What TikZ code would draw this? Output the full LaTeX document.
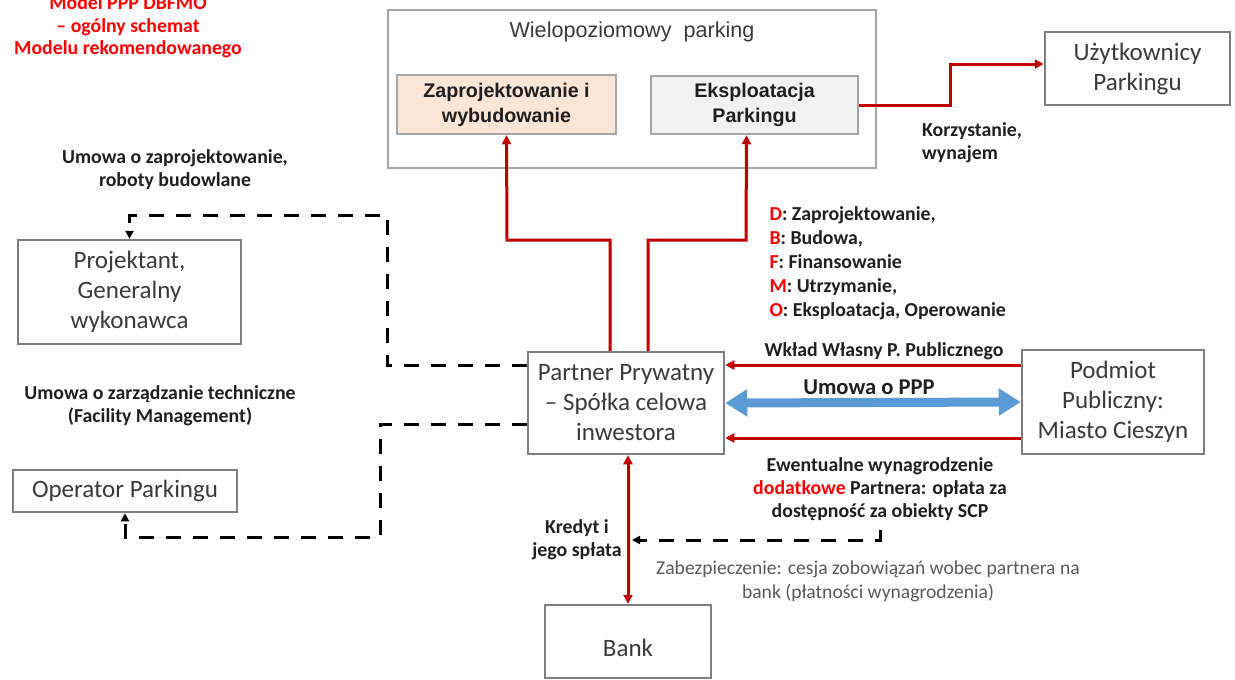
\documentclass[tikz,border=0pt]{standalone}
\usepackage{fontspec}
\setmainfont{Carlito}
\newfontfamily\arialfont{Liberation Sans}
\usetikzlibrary{arrows.meta}
\definecolor{ppgray}{HTML}{7F7F7F}
\definecolor{pplightgray}{HTML}{A6A6A6}
\definecolor{ppink}{HTML}{1F1F1F}
\definecolor{ppboxtext}{HTML}{3A3A3A}
\definecolor{ppred}{HTML}{C00000}
\definecolor{pptitle}{HTML}{FF0000}
\definecolor{ppblue}{HTML}{5B9BD5}
\definecolor{pppeach}{HTML}{FBE5D6}
\definecolor{pppale}{HTML}{F2F2F2}
\definecolor{ppnote}{HTML}{595959}
\tikzset{
  pp box/.style={draw=ppgray, line width=2.5pt, fill=white, inner sep=0pt,
    align=center, text=ppboxtext, font=\fontsize{25}{30}\selectfont},
  pp inner/.style={draw=pplightgray, line width=2.5pt, inner sep=0pt, align=center,
    text=ppink, font=\arialfont\bfseries\fontsize{19.7}{25}\selectfont},
  pp label/.style={font=\bfseries\fontsize{19.8}{23}\selectfont, text=ppink, align=center},
  pp note/.style={font=\fontsize{19.6}{24}\selectfont, text=ppnote, align=center},
  pp red/.style={draw=ppred, line width=3pt, -{Triangle[length=9pt,width=9pt]}},
  pp dash/.style={draw=black, line width=3pt, dash pattern=on 15pt off 12pt,
    -{Triangle[length=8pt,width=8pt]}},
  pp both/.style={draw=ppblue, line width=9pt,
    {Triangle[length=22pt,width=26pt]}-{Triangle[length=22pt,width=26pt]}}
}

\begin{document}
\begin{tikzpicture}[x=1pt, y=-1pt]
  \useasboundingbox (0,0) rectangle (1235,680);
  \node[font=\bfseries\fontsize{19.8}{22.5}\selectfont, text=pptitle, align=center] (title) at (128,27)
    {Model PPP DBFMO\\– ogólny schemat\\Modelu rekomendowanego};
  \node[pp inner, minimum width=488pt, minimum height=158pt, draw=pplightgray, fill=white] (wielo) at (632,89) {};
  \node[font=\arialfont\fontsize{21.6}{24}\selectfont, text=ppboxtext] (wielotitle) at (632,32) {Wielopoziomowy\ \ parking};
  \node[pp inner, minimum width=219pt, minimum height=59pt, fill=pppeach] (zaprojekt) at (506.5,104.5)
    {Zaprojektowanie i\\wybudowanie};
  \node[pp inner, minimum width=207pt, minimum height=58pt, fill=pppale] (eksploat) at (754.5,105)
    {Eksploatacja\\Parkingu};
  \node[pp box, minimum width=185pt, minimum height=73pt] (uzytk) at (1137.5,68.5) {Użytkownicy\\Parkingu};
  \node[pp box, minimum width=223pt, minimum height=104pt] (projektant) at (129.5,292)
    {Projektant,\\Generalny\\wykonawca};
  \node[pp box, minimum width=224pt, minimum height=42pt] (operator) at (125,491) {Operator Parkingu};
  \node[pp box, minimum width=196pt, minimum height=102pt] (partner) at (626,403)
    {Partner Prywatny\\– Spółka celowa\\inwestora};
  \node[pp box, minimum width=182pt, minimum height=104pt] (podmiot) at (1113,402)
    {Podmiot\\Publiczny:\\Miasto Cieszyn};
  \node[pp box, minimum width=166pt, minimum height=73pt] (bank) at (628,641.5) {\mbox{}\\Bank};

  \node[pp label, align=left] (korzyst) at (972,143) {Korzystanie,\\wynajem};
  \node[pp label] (umowaproj) at (175,170) {Umowa o zaprojektowanie,\\roboty budowlane};
  \node[pp label] (umowafm) at (160,406) {Umowa o zarządzanie techniczne\\(Facility Management)};
  \node[pp label, align=left, anchor=north west, font=\bfseries\fontsize{19.8}{24}\selectfont] (dbfmo) at (766,203)
    {\textcolor{pptitle}{D}: Zaprojektowanie,\\\textcolor{pptitle}{B}: Budowa,\\\textcolor{pptitle}{F}: Finansowanie\\
     \textcolor{pptitle}{M}: Utrzymanie,\\\textcolor{pptitle}{O}: Eksploatacja, Operowanie};
  \node[pp label] (wklad) at (884,351) {Wkład Własny P. Publicznego};
  \node[pp label, font=\bfseries\fontsize{22.6}{26}\selectfont] (umowappp) at (869,387) {Umowa o PPP};
  \node[pp label] (wynagr) at (880,489)
    {Ewentualne wynagrodzenie\\\textcolor{pptitle}{dodatkowe} Partnera: opłata za\\dostępność za obiekty SCP};
  \node[pp label] (kredyt) at (577,540) {Kredyt i\\jego spłata};
  \node[pp note] (zabezp) at (868,581)
    {Zabezpieczenie: cesja zobowiązań wobec partnera na\\bank (płatności wynagrodzenia)};

  \coordinate (bendzap) at (507,240);
  \coordinate (bendeks) at (746,240);
  \coordinate (bendusr) at (950,64);
  \coordinate (bendproj) at (387,215);
  \coordinate (bendop) at (380,537);
  \coordinate (zabstart) at (880,530);
  \coordinate (zabend) at (632,540);

  \draw[pp red] ([xshift=-16pt]partner.north) |- (bendzap) -- (zaprojekt.south);
  \draw[pp red] ([xshift=22pt]partner.north) |- (bendeks) -- ([xshift=-8pt]eksploat.south);
  \draw[pp red] (eksploat.east) -| (bendusr) -- (uzytk.west |- bendusr);
  \draw[pp dash] ([yshift=38pt]partner.west) -| (bendproj) -| (projektant.north);
  \draw[pp dash] ([yshift=-21pt]partner.west) -| (bendop) -| (operator.south);
  \draw[pp red] ([yshift=37pt]podmiot.west) -- ([yshift=38pt]partner.east);
  \draw[pp red] ([yshift=-36pt]podmiot.west) -- ([yshift=-35pt]partner.east);
  \draw[pp both] (partner.east) -- (podmiot.west);
  \draw[pp red, {Triangle[length=9pt,width=9pt]}-{Triangle[length=9pt,width=9pt]}]
    ([xshift=2pt]partner.south) -- (bank.north);
  \draw[pp dash] (zabstart) |- (zabend);
\end{tikzpicture}
\end{document}
